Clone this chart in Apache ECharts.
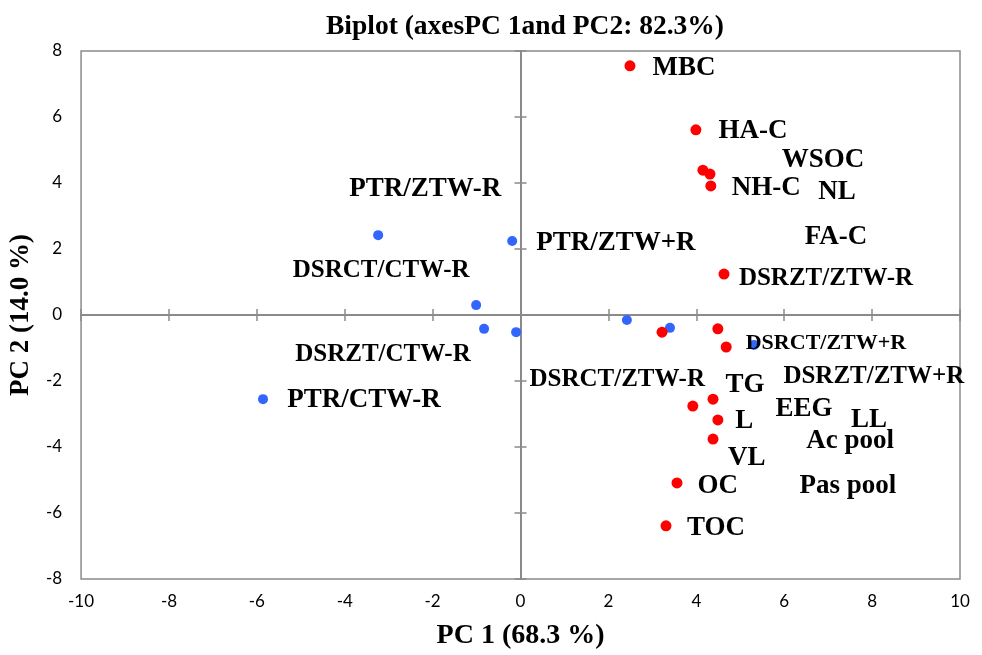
<!DOCTYPE html>
<html>
<head>
<meta charset="utf-8">
<script src="https://cdn.jsdelivr.net/npm/echarts@6/dist/echarts.min.js"></script>
<style>
    html, body { margin: 0; padding: 0; background: #fff; }
    #biplot { width: 982px; height: 655px; }
</style>
</head>
<body>
<div id="biplot"></div>
<script>
// variables (red) and treatments (blue) scores
var varX = [2.49, 3.99, 4.15, 4.31, 4.33, 4.63, 3.22, 4.49, 4.68, 4.38, 3.92, 4.49, 4.38, 3.56, 3.31];
var varY = [7.55, 5.61, 4.39, 4.27, 3.91, 1.24, -0.52, -0.42, -0.97, -2.55, -2.76, -3.18, -3.76, -5.09, -6.39];
var trtX = [-3.24, -0.19, -1.01, -0.83, -0.10, 2.42, 3.40, 5.31, -5.86];
var trtY = [2.42, 2.24, 0.30, -0.42, -0.52, -0.15, -0.39, -0.91, -2.55];

// text labels (placed as moved in the original)
var labelNames = ['MBC', 'HA-C', 'WSOC', 'NH-C', 'NL', 'FA-C', 'DSRZT/ZTW-R', 'PTR/ZTW-R', 'PTR/ZTW+R',
    'DSRCT/CTW-R', 'DSRZT/CTW-R', 'PTR/CTW-R', 'DSRCT/ZTW+R', 'DSRCT/ZTW-R', 'DSRZT/ZTW+R',
    'TG', 'EEG', 'L', 'LL', 'Ac pool', 'VL', 'OC', 'Pas pool', 'TOC'];
var labelX = [3.72, 5.29, 6.88, 5.59, 7.20, 7.18, 6.95, -2.17, 2.17, -3.17, -3.13, -3.56, 6.95, 2.20, 8.04,
    5.11, 6.45, 5.09, 7.93, 7.50, 5.15, 4.49, 7.45, 4.45];
var labelY = [7.48, 5.58, 4.70, 3.85, 3.73, 2.36, 1.09, 3.82, 2.18, 1.36, -1.21, -2.58, -0.85, -1.97, -1.85,
    -2.12, -2.85, -3.21, -3.18, -3.82, -4.33, -5.18, -5.18, -6.45];

var xTicks = [-10, -8, -6, -4, -2, 0, 2, 4, 6, 8, 10];
var yTicks = [-8, -6, -4, -2, 0, 2, 4, 6, 8];

var serif = '"Liberation Serif", "Times New Roman", serif';
var gray = '#8a8a8a';

var chart = echarts.init(document.getElementById('biplot'));

var mediumLabels = ['DSRZT/ZTW-R', 'DSRCT/CTW-R', 'DSRZT/CTW-R', 'DSRCT/ZTW-R', 'DSRZT/ZTW+R'];
var labelData = labelNames.map(function (n, i) {
    var size = 27;
    if (mediumLabels.indexOf(n) >= 0) size = 25;
    if (n === 'DSRCT/ZTW+R') size = 22;
    return {
        value: [labelX[i], labelY[i]],
        name: n,
        label: { fontSize: size }
    };
});

function zip(a, b) {
    return a.map(function (v, i) { return [v, b[i]]; });
}

// zero lines with cross ticks (one axis ticks out, one ticks in)
function tickAxis(ticks, inside) {
    return {
        type: 'value',
        min: ticks[0], max: ticks[ticks.length - 1], interval: 2,
        axisLine: { onZero: true, onZeroAxisIndex: 0, lineStyle: { color: gray, width: 2 } },
        axisTick: { show: true, inside: inside, length: 6, lineStyle: { color: gray, width: 1.5 } },
        axisLabel: { show: false },
        splitLine: { show: false }
    };
}

var tickFont = { fontFamily: 'Lato, "Open Sans", sans-serif', fontSize: 17, color: '#000' };

var option = {
    backgroundColor: '#fff',
    animation: false,
    title: {
        text: 'Biplot (axesPC 1and PC2: 82.3%)',
        left: 321,
        top: 8,
        textStyle: { fontFamily: serif, fontWeight: 'bold', fontSize: 27.5, color: '#000' }
    },
    grid: {
        left: 81, right: 22, top: 51, bottom: 76,
        show: true,
        borderColor: gray,
        borderWidth: 1.5
    },
    xAxis: [
        {
            type: 'value',
            position: 'bottom',
            min: xTicks[0], max: xTicks[xTicks.length - 1], interval: 2,
            name: 'PC 1 (68.3 %)',
            nameLocation: 'middle',
            nameGap: 43,
            nameTextStyle: { fontFamily: serif, fontWeight: 'bold', fontSize: 28, color: '#000' },
            axisLine: { show: false, onZero: false },
            axisTick: { show: false },
            axisLabel: Object.assign({ margin: 14 }, tickFont),
            splitLine: { show: false }
        },
        tickAxis(xTicks, false),
        tickAxis(xTicks, true)
    ],
    yAxis: [
        {
            type: 'value',
            position: 'left',
            min: yTicks[0], max: yTicks[yTicks.length - 1], interval: 2,
            name: 'PC 2 (14.0 %)',
            nameLocation: 'middle',
            nameGap: 38,
            nameTextStyle: { fontFamily: serif, fontWeight: 'bold', fontSize: 27, color: '#000' },
            axisLine: { show: false, onZero: false },
            axisTick: { show: false },
            axisLabel: Object.assign({ margin: 19 }, tickFont),
            splitLine: { show: false }
        },
        tickAxis(yTicks, false),
        tickAxis(yTicks, true)
    ],
    series: [
        {
            type: 'scatter',
            name: 'treatments',
            data: zip(trtX, trtY),
            symbolSize: 10,
            itemStyle: { color: '#3366ff', opacity: 1 },
            z: 4
        },
        {
            type: 'scatter',
            name: 'variables',
            data: zip(varX, varY),
            symbolSize: 11,
            itemStyle: { color: '#ff0000', opacity: 1 },
            z: 5
        },
        {
            // text only, drawn above the dots
            type: 'scatter',
            name: 'labels',
            data: labelData,
            symbolSize: 0,
            silent: true,
            itemStyle: { opacity: 1 },
            label: {
                show: true,
                position: 'inside',
                formatter: '{b}',
                fontFamily: serif,
                fontWeight: 'bold',
                color: '#000',
                opacity: 1,
                textBorderWidth: 0
            },
            z: 6
        }
    ]
};

chart.setOption(option);
</script>
</body>
</html>
